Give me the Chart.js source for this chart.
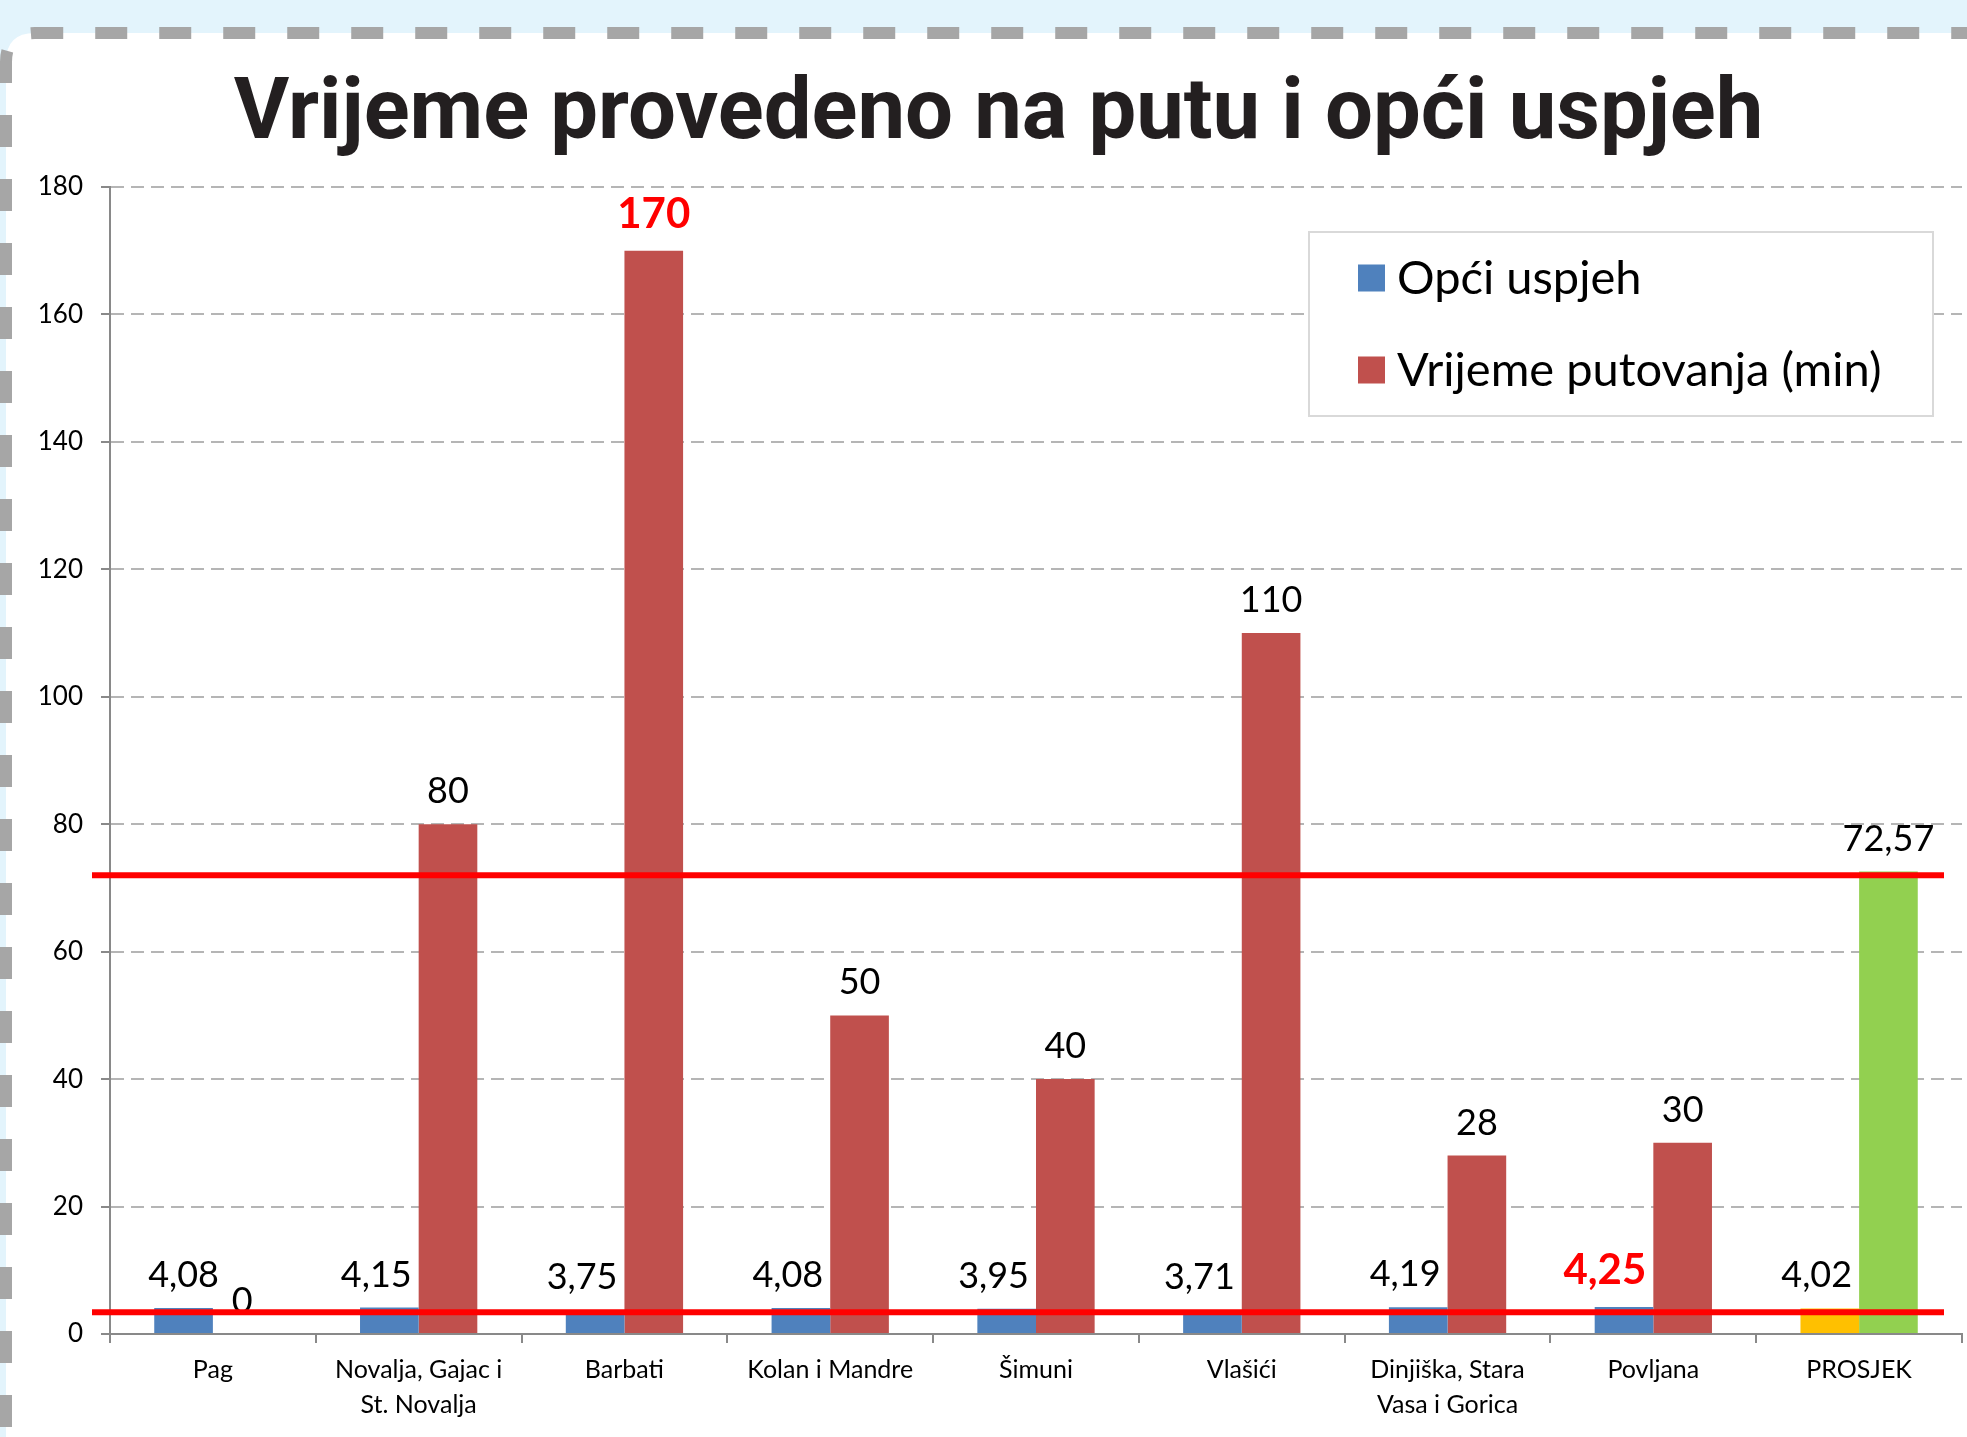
<!DOCTYPE html>
<html>
<head>
<meta charset="utf-8">
<script src="https://cdn.jsdelivr.net/npm/chart.js@4.4.1/dist/chart.umd.min.js"></script>
<style>
  html, body { margin: 0; padding: 0; }
  body { width: 1967px; height: 1437px; background: #e3f4fc; position: relative; overflow: hidden; }
  #frame, #chart { position: absolute; left: 0; top: 0; }
</style>
</head>
<body>
<svg id="frame" width="1967" height="1437">
  <path d="M6 1437 L6 62 Q6 33 35 33 L1967 33 L1967 1437 Z" fill="#ffffff"/>
  <path d="M6 1437 L6 62 Q6 33 35 33 L1967 33" fill="none" stroke="#a6a6a6" stroke-width="12"
        stroke-dasharray="32 32" stroke-dashoffset="54"/>
</svg>
<canvas id="chart" width="1967" height="1437"></canvas>
<script>
const categories = ['Pag', ['Novalja, Gajac i', 'St. Novalja'], 'Barbati', 'Kolan i Mandre', 'Šimuni',
    'Vlašići', ['Dinjiška, Stara', 'Vasa i Gorica'], 'Povljana', 'PROSJEK'];
const opciUspjeh = [4.08, 4.15, 3.75, 4.08, 3.95, 3.71, 4.19, 4.25, 4.02];
const vrijemePutovanja = [0, 80, 170, 50, 40, 110, 28, 30, 72.57];
const yMin = 0, yMax = 180, yStep = 20;
// hand drawn red lines in the original (approx. averages)
const redLines = [72, 3.4];
// indexes of labels shown in red bold
const boldUspjeh = [7];
const boldVrijeme = [2];

const blueColors = opciUspjeh.map((v, i) => i === opciUspjeh.length - 1 ? '#ffc000' : '#4f81bd');
const redColors = vrijemePutovanja.map((v, i) => i === vrijemePutovanja.length - 1 ? '#92d050' : '#c0504d');

function fmt(v) {
    return Number.isInteger(v) ? String(v) : v.toFixed(2).replace('.', ',');
}

const valueLabels = {
    id: 'valueLabels',
    afterDatasetsDraw(chart) {
        const ctx = chart.ctx;
        const neighbours = chart.getDatasetMeta(1).data;
        ctx.save();
        ctx.textAlign = 'center';
        ctx.textBaseline = 'alphabetic';
        chart.data.datasets.forEach((ds, di) => {
            const bold = di === 0 ? boldUspjeh : boldVrijeme;
            chart.getDatasetMeta(di).data.forEach((bar, i) => {
                const txt = fmt(ds.data[i]);
                let lift = 21;
                if (bold.includes(i)) {
                    ctx.font = 'bold 42px Lato';
                    ctx.fillStyle = '#ff0000';
                    lift = 23;
                } else {
                    ctx.font = '36px Lato';
                    ctx.fillStyle = '#000000';
                }
                let x = bar.x;
                // excel pushes the label off the taller neighbour bar
                if (di === 0 && neighbours[i].y < bar.y - lift) {
                    const w = ctx.measureText(txt).width;
                    x = Math.min(bar.x, bar.x + bar.width / 2 - 7 - w / 2);
                }
                ctx.fillText(txt, x, bar.y - lift);
            });
        });
        ctx.restore();
    }
};

const redLinePlugin = {
    id: 'redLinePlugin',
    afterDatasetsDraw(chart) {
        const ctx = chart.ctx;
        const y = chart.scales.y;
        ctx.save();
        ctx.strokeStyle = '#ff0000';
        ctx.lineWidth = 6;
        redLines.forEach(v => {
            const py = y.getPixelForValue(v);
            ctx.beginPath();
            ctx.moveTo(chart.chartArea.left - 18, py);
            ctx.lineTo(chart.chartArea.right - 18, py);
            ctx.stroke();
        });
        ctx.restore();
    }
};

const boxLegend = {
    id: 'boxLegend',
    afterDraw(chart) {
        const ctx = chart.ctx;
        ctx.save();
        ctx.fillStyle = '#ffffff';
        ctx.strokeStyle = '#d9d9d9';
        ctx.lineWidth = 2;
        ctx.fillRect(1309, 232, 624, 184);
        ctx.strokeRect(1309, 232, 624, 184);
        ctx.font = '47px Lato';
        ctx.textBaseline = 'alphabetic';
        ctx.textAlign = 'left';
        chart.data.datasets.forEach((ds, i) => {
            const cy = 278 + i * 92;
            ctx.fillStyle = ds.backgroundColor[0];
            ctx.fillRect(1358, cy - 13.5, 27, 27);
            ctx.fillStyle = '#000000';
            ctx.fillText(ds.label, 1397, cy + 16);
        });
        ctx.restore();
    }
};

function drawChart() {
    const ctx = document.getElementById('chart').getContext('2d');
    new Chart(ctx, {
        type: 'bar',
        data: {
            labels: categories,
            datasets: [{
                label: 'Opći uspjeh',
                data: opciUspjeh,
                backgroundColor: blueColors
            }, {
                label: 'Vrijeme putovanja (min)',
                data: vrijemePutovanja,
                backgroundColor: redColors
            }]
        },
        options: {
            responsive: false,
            animation: false,
            devicePixelRatio: 1,
            categoryPercentage: 0.57,
            barPercentage: 1,
            layout: { padding: { left: 35, right: 5, top: 0, bottom: 3 } },
            plugins: {
                legend: { display: false },
                tooltip: { enabled: false },
                title: {
                    display: true,
                    text: 'Vrijeme provedeno na putu i opći uspjeh',
                    color: '#231f20',
                    font: { family: 'Roboto', size: 85, weight: 'bold', lineHeight: 1.2 },
                    padding: { top: 66, bottom: 19 }
                }
            },
            scales: {
                x: {
                    afterFit(scale) { scale.height = 100; },
                    grid: {
                        offset: true,
                        drawOnChartArea: false,
                        color: '#898989',
                        lineWidth: 2,
                        tickLength: 9
                    },
                    border: { color: '#898989', width: 2 },
                    ticks: {
                        color: '#000000',
                        padding: 9,
                        maxRotation: 0,
                        autoSkip: false,
                        font: { family: 'Lato', size: 25, lineHeight: 1.4 }
                    }
                },
                y: {
                    min: yMin,
                    max: yMax,
                    afterFit(scale) { scale.width = 75; },
                    grid: {
                        color: '#b5b5b5',
                        lineWidth: 2,
                        tickLength: 9,
                        tickColor: '#898989',
                        tickBorderDash: [1, 0]
                    },
                    border: { color: '#898989', width: 2, dash: [13, 7] },
                    ticks: {
                        stepSize: yStep,
                        color: '#000000',
                        padding: 18,
                        font: { family: 'Lato', size: 26 }
                    }
                }
            }
        },
        plugins: [valueLabels, redLinePlugin, boxLegend]
    });
}

Promise.all([
    document.fonts.load('bold 85px Roboto'),
    document.fonts.load('36px Lato'),
    document.fonts.load('bold 42px Lato')
]).then(drawChart, drawChart);
</script>
</body>
</html>
